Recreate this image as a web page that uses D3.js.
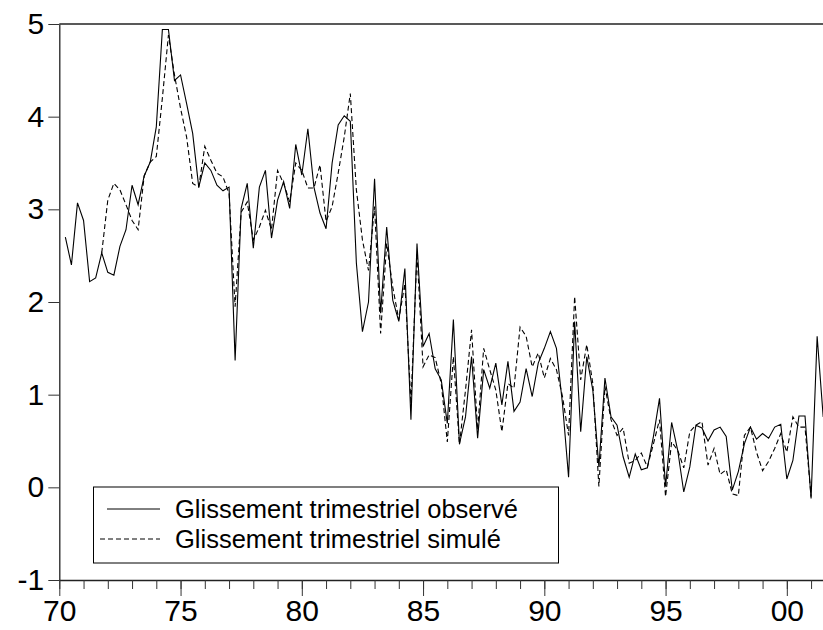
<!DOCTYPE html>
<html>
<head>
<meta charset="utf-8">
<script src="https://cdn.jsdelivr.net/npm/d3@7/dist/d3.min.js"></script>
<style>
  body { margin: 0; background: #fff; }
  svg { display: block; font-family: "Liberation Sans", Arial, sans-serif; }
</style>
</head>
<body>
<div id="chart"></div>
<script>
// Quarterly series, observed starts 1970Q2, simulated starts 1971Q4
var startObserved = [1970, 2];
var observed = [
    2.70, 2.40, 3.07,
    2.88, 2.22, 2.26, 2.53,
    2.32, 2.29, 2.60, 2.78,
    3.26, 3.05, 3.36, 3.51,
    3.89, 4.94, 4.94, 4.39,
    4.45, 4.14, 3.82, 3.24,
    3.50, 3.42, 3.26, 3.20,
    3.24, 1.37, 3.01, 3.28,
    2.58, 3.24, 3.42, 2.69,
    3.10, 3.30, 3.01, 3.70,
    3.37, 3.87, 3.24, 2.96,
    2.79, 3.50, 3.91, 4.01,
    3.95, 2.42, 1.68, 2.00,
    3.33, 1.88, 2.81, 2.02,
    1.79, 2.36, 0.73, 2.63,
    1.52, 1.66, 1.28, 1.16,
    0.69, 1.81, 0.47, 0.76,
    1.41, 0.53, 1.27, 1.07,
    1.34, 0.89, 1.36, 0.82,
    0.92, 1.28, 0.98, 1.34,
    1.50, 1.68, 1.50, 0.90,
    0.11, 1.79, 0.60, 1.41,
    1.05, 0.22, 1.18, 0.76,
    0.67, 0.33, 0.11, 0.36,
    0.19, 0.21, 0.55, 0.96,
    0.01, 0.70, 0.40, -0.05,
    0.22, 0.67, 0.64, 0.50,
    0.62, 0.65, 0.55, -0.03,
    0.17, 0.47, 0.65, 0.52,
    0.58, 0.53, 0.65, 0.68,
    0.09, 0.29, 0.77, 0.77,
    -0.12, 1.63, 0.76
];

var startSimulated = [1971, 4];
var simulated = [
    2.53,
    3.10, 3.28, 3.21, 3.05,
    2.88, 2.78, 3.36, 3.51,
    3.57, 4.20, 4.88, 4.45,
    4.09, 3.78, 3.28, 3.24,
    3.68, 3.53, 3.39, 3.35,
    3.17, 1.95, 2.97, 3.08,
    2.67, 2.81, 2.99, 2.78,
    3.42, 3.28, 3.08, 3.50,
    3.42, 3.23, 3.23, 3.48,
    2.87, 3.03, 3.39, 3.78,
    4.25, 3.21, 2.67, 2.34,
    3.03, 1.66, 2.63, 2.16,
    1.81, 2.20, 0.90, 2.53,
    1.30, 1.43, 1.40, 1.12,
    0.49, 1.41, 0.46, 1.05,
    1.70, 0.62, 1.50, 1.27,
    1.05, 0.60, 1.12, 1.07,
    1.73, 1.63, 1.30, 1.45,
    1.18, 1.39, 1.27, 0.98,
    0.56, 2.06, 1.16, 1.54,
    1.12, 0.01, 1.09, 0.73,
    0.56, 0.64, 0.26, 0.29,
    0.37, 0.22, 0.47, 0.73,
    -0.10, 0.49, 0.40, 0.21,
    0.60, 0.67, 0.71, 0.24,
    0.42, 0.14, 0.19, -0.07,
    -0.09, 0.56, 0.65, 0.38,
    0.18, 0.28, 0.42, 0.58,
    0.38, 0.76, 0.65, 0.65,
    -0.10
];

var yTicks = [-1, 0, 1, 2, 3, 4, 5];
var majorYears = [1970, 1975, 1980, 1985, 1990, 1995, 2000];
var legendLabels = ["Glissement trimestriel observé", "Glissement trimestriel simulé"];

// turn a series into {t, v} points, t = year + (quarter-1)/4
function toPoints(start, values) {
    return values.map(function (v, i) {
        var q = (start[1] - 1) + i;
        return { t: start[0] + q / 4, v: v };
    });
}

var width = 823, height = 630;
var plot = { left: 59.3, right: 823.2, top: 24, bottom: 580 };

var svg = d3.select("#chart").append("svg")
    .attr("width", width)
    .attr("height", height);

var x = d3.scaleLinear().domain([1970, 2001.5]).range([plot.left, plot.right]);
var y = d3.scaleLinear().domain([-1, 5]).range([plot.bottom, plot.top]);

// top border
svg.append("line")
    .attr("x1", plot.left).attr("x2", plot.right)
    .attr("y1", plot.top).attr("y2", plot.top)
    .attr("stroke", "#222").attr("stroke-width", 1.3);

// y axis (plain hyphen for the minus sign, as in the original)
svg.append("g")
    .attr("transform", "translate(" + plot.left + ",0)")
    .call(d3.axisLeft(y).tickValues(yTicks).tickSize(11).tickSizeOuter(0).tickPadding(4)
        .tickFormat(function (d) { return String(d); }));

// x axis: minor ticks every year, then the major ones with labels
var years = d3.range(1970, 2002);
svg.append("g")
    .attr("transform", "translate(0," + plot.bottom + ")")
    .call(d3.axisBottom(x).tickValues(years).tickSize(9).tickSizeOuter(0).tickFormat(""));

var xAxis = svg.append("g")
    .attr("transform", "translate(0," + plot.bottom + ")")
    .call(d3.axisBottom(x).tickValues(majorYears).tickSize(16).tickSizeOuter(0).tickPadding(4)
        .tickFormat(function (d) { return d3.format("02d")(d % 100); }));
xAxis.select(".domain").remove();

svg.selectAll(".domain").attr("stroke", "#222").attr("stroke-width", 1.3);
svg.selectAll(".tick line").attr("stroke", "#333").attr("stroke-width", 1);
svg.selectAll(".tick text")
    .attr("fill", "#000")
    .style("font-size", "30px")
    .style("font-family", "'Liberation Sans', Arial, sans-serif");

// series lines
var line = d3.line()
    .x(function (d) { return x(d.t); })
    .y(function (d) { return y(d.v); });

svg.append("path")
    .datum(toPoints(startObserved, observed))
    .attr("fill", "none")
    .attr("stroke", "#000")
    .attr("stroke-width", 1.1)
    .attr("d", line);

svg.append("path")
    .datum(toPoints(startSimulated, simulated))
    .attr("fill", "none")
    .attr("stroke", "#000")
    .attr("stroke-width", 1.1)
    .attr("stroke-dasharray", "5,3")
    .attr("d", line);

// legend
var legend = svg.append("g");
legend.append("rect")
    .attr("x", 93.5).attr("y", 487)
    .attr("width", 465).attr("height", 76)
    .attr("fill", "#fff")
    .attr("stroke", "#000")
    .attr("stroke-width", 1);

legendLabels.forEach(function (label, i) {
    var ly = 509 + i * 30;
    legend.append("line")
        .attr("x1", i === 0 ? 107 : 100).attr("x2", 160)
        .attr("y1", ly).attr("y2", ly)
        .attr("stroke", "#000")
        .attr("stroke-width", 1)
        .attr("stroke-dasharray", i === 0 ? null : "5,3");
    legend.append("text")
        .attr("x", 175).attr("y", ly)
        .attr("dy", "0.35em")
        .style("font-size", "25.5px")
        .text(label);
});
</script>
</body>
</html>
